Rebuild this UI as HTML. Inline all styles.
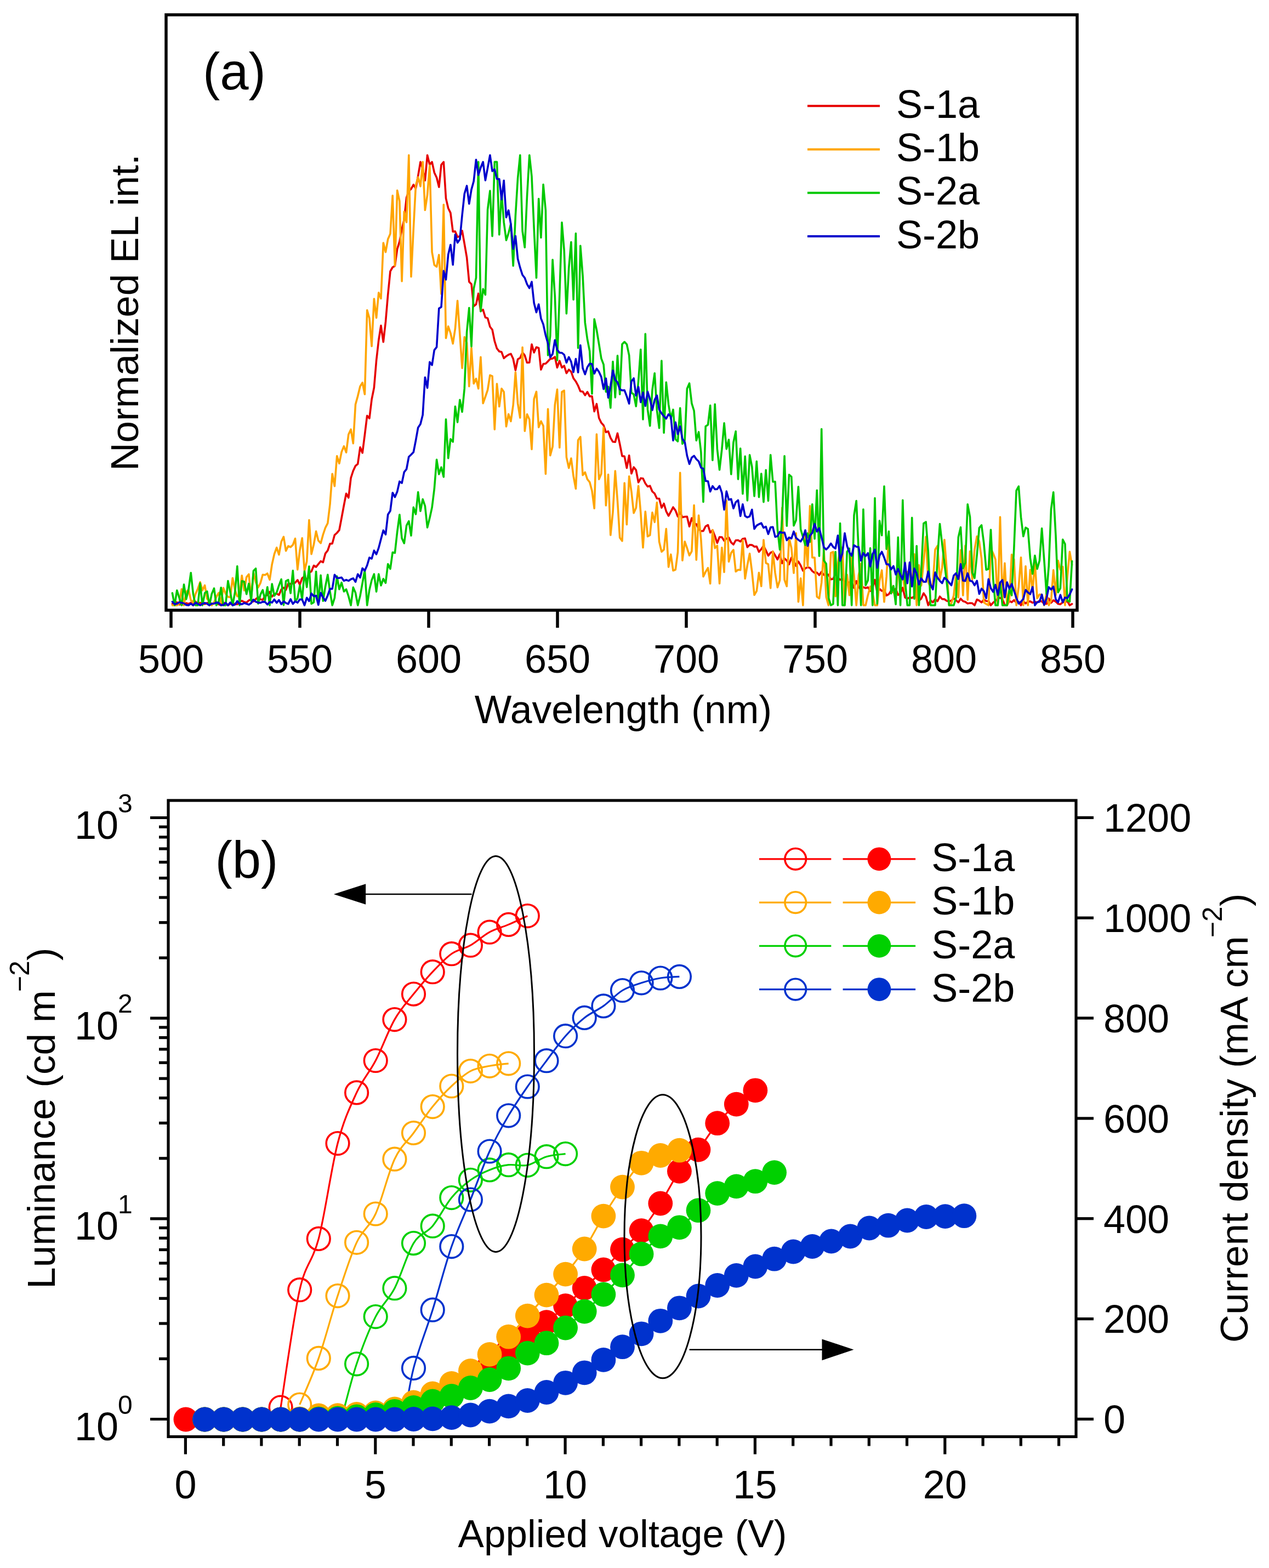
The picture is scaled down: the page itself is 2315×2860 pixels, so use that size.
<!DOCTYPE html>
<html><head><meta charset="utf-8"><title>EL spectra and L-V-J</title><style>html,body{margin:0;padding:0;background:#fff;}svg{display:block;}</style></head><body>
<svg width="2315" height="2860" viewBox="0 0 2315 2860" font-family="'Liberation Sans', Arial, sans-serif">
<rect x="0" y="0" width="2315" height="2860" fill="#fff"/>
<defs><clipPath id="ca"><rect x="305" y="29" width="1658" height="1082"/></clipPath><clipPath id="cb"><rect x="309" y="1462" width="1652" height="1156"/></clipPath></defs>
<g clip-path="url(#ca)">
<polyline points="314.4,1101.5 318.6,1098.2 322.8,1098.5 327.0,1102.7 331.3,1102.2 335.5,1102.7 339.7,1100.0 344.0,1101.5 348.2,1099.4 352.4,1104.0 356.6,1097.3 360.9,1101.3 365.1,1099.4 369.3,1101.3 373.6,1101.8 377.8,1099.7 382.0,1098.7 386.3,1101.1 390.5,1100.9 394.7,1098.7 398.9,1102.4 403.2,1103.9 407.4,1099.0 411.6,1101.4 415.9,1104.0 420.1,1101.4 424.3,1100.3 428.6,1101.8 432.8,1102.2 437.0,1098.1 441.2,1095.7 445.5,1098.1 449.7,1099.0 453.9,1095.1 458.2,1093.2 462.4,1097.1 466.6,1092.7 470.9,1089.4 475.1,1093.2 479.3,1094.1 483.5,1087.1 487.8,1085.4 492.0,1079.5 496.2,1088.2 500.5,1083.6 504.7,1082.7 508.9,1085.2 513.2,1075.2 517.4,1071.8 521.6,1076.0 525.8,1064.4 530.1,1065.1 534.3,1063.9 538.5,1062.9 542.8,1057.9 547.0,1066.5 551.2,1054.4 555.5,1051.4 559.7,1059.9 563.9,1044.7 568.1,1042.2 572.4,1031.6 576.6,1034.1 580.8,1028.9 585.1,1023.7 589.3,1025.7 593.5,1009.7 597.8,1004.2 602.0,991.9 606.2,991.4 610.4,975.8 614.7,972.0 618.9,966.9 623.1,944.9 627.4,921.6 631.6,900.2 635.8,907.9 640.1,871.7 644.3,858.8 648.5,849.7 652.7,846.3 657.0,815.9 661.2,826.0 665.4,793.3 669.7,758.2 673.9,763.0 678.1,728.4 682.4,707.1 686.6,657.4 690.8,620.4 695.0,593.9 699.3,623.7 703.5,586.9 707.7,537.4 712.0,494.8 716.2,487.5 720.4,485.1 724.7,454.1 728.9,440.5 733.1,418.2 737.3,400.2 741.6,360.4 745.8,348.3 750.0,344.6 754.3,336.9 758.5,343.7 762.7,320.8 767.0,295.3 771.2,308.7 775.4,329.2 779.6,283.0 783.9,300.7 788.1,295.3 792.3,314.7 796.6,323.9 800.8,341.2 805.0,300.6 809.3,295.3 813.5,361.9 817.7,379.7 821.9,388.4 826.2,422.4 830.4,422.1 834.6,432.2 838.9,430.9 843.1,420.8 847.3,444.6 851.6,469.6 855.8,513.9 860.0,518.3 864.2,558.6 868.5,555.1 872.7,535.4 876.9,567.4 881.2,564.9 885.4,579.0 889.6,580.4 893.9,596.0 898.1,601.3 902.3,622.3 906.5,635.7 910.8,641.0 915.0,642.1 919.2,653.5 923.5,649.7 927.7,647.0 931.9,645.3 936.2,654.6 940.4,675.3 944.6,655.3 948.8,652.9 953.1,643.0 957.3,648.2 961.5,661.5 965.8,661.2 970.0,628.1 974.2,642.9 978.5,633.3 982.7,634.8 986.9,674.2 991.1,663.8 995.4,663.2 999.6,659.1 1003.8,654.6 1008.1,653.9 1012.3,651.0 1016.5,670.5 1020.8,658.1 1025.0,670.5 1029.2,667.2 1033.4,680.7 1037.7,674.2 1041.9,678.0 1046.1,689.9 1050.4,695.7 1054.6,703.5 1058.8,713.8 1063.1,714.2 1067.3,720.9 1071.5,714.8 1075.7,722.9 1080.0,722.7 1084.2,750.4 1088.4,736.7 1092.7,762.5 1096.9,771.1 1101.1,775.8 1105.4,788.4 1109.6,786.8 1113.8,798.6 1118.0,805.8 1122.3,806.3 1126.5,790.3 1130.7,810.0 1135.0,831.9 1139.2,832.3 1143.4,853.6 1147.7,830.8 1151.9,863.8 1156.1,852.1 1160.3,857.4 1164.6,880.0 1168.8,872.3 1173.0,872.7 1177.3,881.8 1181.5,887.5 1185.7,886.2 1190.0,896.5 1194.2,900.2 1198.4,909.3 1202.6,909.5 1206.9,926.1 1211.1,918.5 1215.3,932.6 1219.6,940.8 1223.8,933.2 1228.0,925.2 1232.3,931.1 1236.5,942.1 1240.7,934.5 1244.9,943.6 1249.2,942.5 1253.4,942.4 1257.6,960.3 1261.9,945.0 1266.1,955.4 1270.3,956.1 1274.6,964.8 1278.8,968.7 1283.0,968.4 1287.2,960.0 1291.5,957.6 1295.7,971.4 1299.9,967.0 1304.2,977.8 1308.4,990.3 1312.6,979.6 1316.9,979.7 1321.1,986.4 1325.3,982.3 1329.5,980.6 1333.8,989.4 1338.0,993.2 1342.2,985.5 1346.5,985.4 1350.7,987.8 1354.9,982.7 1359.2,982.1 1363.4,998.1 1367.6,993.7 1371.8,994.1 1376.1,997.1 1380.3,996.7 1384.5,1006.6 1388.8,1001.6 1393.0,995.6 1397.2,1004.0 1401.5,1013.6 1405.7,1008.1 1409.9,1006.1 1414.1,1013.2 1418.4,1020.5 1422.6,1010.6 1426.8,1027.4 1431.1,1018.7 1435.3,1022.3 1439.5,1029.4 1443.8,1017.0 1448.0,1022.8 1452.2,1032.3 1456.4,1024.2 1460.7,1031.4 1464.9,1041.1 1469.1,1036.7 1473.4,1034.5 1477.6,1035.9 1481.8,1041.6 1486.1,1044.9 1490.3,1044.4 1494.5,1049.0 1498.7,1042.8 1503.0,1048.7 1507.2,1048.6 1511.4,1048.1 1515.7,1056.8 1519.9,1056.0 1524.1,1046.0 1528.4,1053.2 1532.6,1057.6 1536.8,1055.9 1541.0,1061.4 1545.3,1059.1 1549.5,1065.0 1553.7,1061.8 1558.0,1072.2 1562.2,1059.8 1566.4,1069.9 1570.7,1076.3 1574.9,1071.0 1579.1,1072.7 1583.3,1071.2 1587.6,1078.0 1591.8,1071.6 1596.0,1057.5 1600.3,1080.8 1604.5,1074.1 1608.7,1077.9 1613.0,1076.3 1617.2,1086.2 1621.4,1083.9 1625.6,1077.3 1629.9,1080.4 1634.1,1073.7 1638.3,1085.2 1642.6,1082.5 1646.8,1071.9 1651.0,1089.8 1655.3,1091.9 1659.5,1089.5 1663.7,1090.7 1667.9,1087.6 1672.2,1091.3 1676.4,1095.6 1680.6,1091.9 1684.9,1082.0 1689.1,1088.2 1693.3,1104.0 1697.6,1095.1 1701.8,1098.7 1706.0,1092.8 1710.2,1096.6 1714.5,1088.0 1718.7,1092.6 1722.9,1092.9 1727.2,1095.9 1731.4,1097.0 1735.6,1095.5 1739.9,1091.5 1744.1,1094.8 1748.3,1098.7 1752.5,1091.9 1756.8,1096.5 1761.0,1097.8 1765.2,1100.8 1769.5,1100.0 1773.7,1100.3 1777.9,1104.0 1782.2,1093.5 1786.4,1095.5 1790.6,1098.8 1794.8,1093.6 1799.1,1096.2 1803.3,1096.5 1807.5,1104.0 1811.8,1099.2 1816.0,1096.0 1820.2,1091.6 1824.5,1090.6 1828.7,1092.4 1832.9,1103.3 1837.1,1104.0 1841.4,1096.2 1845.6,1098.5 1849.8,1094.6 1854.1,1099.2 1858.3,1097.8 1862.5,1104.0 1866.8,1096.9 1871.0,1100.7 1875.2,1097.4 1879.4,1096.9 1883.7,1099.4 1887.9,1097.6 1892.1,1099.0 1896.4,1095.8 1900.6,1096.9 1904.8,1101.3 1909.1,1101.5 1913.3,1091.7 1917.5,1099.4 1921.7,1094.9 1926.0,1097.4 1930.2,1101.4 1934.4,1102.2 1938.7,1098.6 1942.9,1098.0 1947.1,1096.5 1951.4,1104.0 1955.6,1101.6" fill="none" stroke="#E60000" stroke-width="3.6" stroke-linejoin="round" stroke-linecap="round" />
<polyline points="314.4,1104.0 318.6,1104.0 322.8,1104.0 327.0,1100.5 331.3,1074.5 335.5,1104.0 339.7,1079.8 344.0,1075.4 348.2,1094.8 352.4,1098.6 356.6,1083.6 360.9,1073.9 365.1,1061.8 369.3,1076.8 373.6,1067.6 377.8,1092.1 382.0,1096.8 386.3,1104.0 390.5,1099.0 394.7,1088.7 398.9,1081.3 403.2,1099.2 407.4,1072.3 411.6,1082.9 415.9,1088.8 420.1,1089.4 424.3,1054.2 428.6,1075.9 432.8,1087.7 437.0,1086.4 441.2,1049.7 445.5,1076.9 449.7,1052.6 453.9,1047.3 458.2,1091.4 462.4,1044.4 466.6,1062.1 470.9,1071.5 475.1,1063.4 479.3,1048.2 483.5,1048.7 487.8,1046.0 492.0,1057.4 496.2,1029.3 500.5,1010.3 504.7,998.8 508.9,1011.7 513.2,988.0 517.4,979.1 521.6,1004.8 525.8,996.0 530.1,997.9 534.3,993.9 538.5,982.3 542.8,1038.9 547.0,1003.4 551.2,981.5 555.5,1041.7 559.7,1024.0 563.9,948.5 568.1,1010.6 572.4,993.4 576.6,969.1 580.8,986.1 585.1,990.7 589.3,975.3 593.5,962.8 597.8,954.4 602.0,919.6 606.2,864.2 610.4,886.8 614.7,831.8 618.9,845.4 623.1,824.4 627.4,813.9 631.6,825.2 635.8,792.4 640.1,783.2 644.3,808.7 648.5,737.8 652.7,722.5 657.0,704.6 661.2,698.0 665.4,719.1 669.7,565.7 673.9,580.6 678.1,631.5 682.4,545.0 686.6,579.7 690.8,533.9 695.0,544.5 699.3,443.0 703.5,459.8 707.7,436.3 712.0,426.4 716.2,356.9 720.4,484.6 724.7,347.3 728.9,367.0 733.1,512.9 737.3,386.1 741.6,405.4 745.8,283.0 750.0,504.7 754.3,417.7 758.5,337.8 762.7,323.2 767.0,339.9 771.2,295.3 775.4,383.3 779.6,355.6 783.9,301.7 788.1,459.8 792.3,483.3 796.6,486.7 800.8,464.9 805.0,536.1 809.3,373.3 813.5,616.8 817.7,595.3 821.9,607.5 826.2,626.8 830.4,599.6 834.6,548.5 838.9,610.4 843.1,671.4 847.3,614.9 851.6,625.3 855.8,704.6 860.0,634.5 864.2,699.7 868.5,690.6 872.7,708.8 876.9,651.4 881.2,735.6 885.4,723.8 889.6,711.4 893.9,684.4 898.1,686.1 902.3,783.1 906.5,700.1 910.8,741.5 915.0,708.9 919.2,714.8 923.5,778.0 927.7,755.2 931.9,768.5 936.2,738.8 940.4,679.0 944.6,736.0 948.8,762.0 953.1,633.6 957.3,786.2 961.5,755.6 965.8,765.1 970.0,819.4 974.2,727.9 978.5,714.4 982.7,779.4 986.9,768.3 991.1,776.8 995.4,864.4 999.6,746.1 1003.8,830.7 1008.1,814.8 1012.3,738.5 1016.5,710.4 1020.8,816.4 1025.0,714.8 1029.2,712.4 1033.4,833.8 1037.7,853.7 1041.9,836.1 1046.1,868.3 1050.4,891.4 1054.6,802.8 1058.8,796.8 1063.1,866.6 1067.3,861.3 1071.5,874.2 1075.7,879.3 1080.0,895.4 1084.2,927.2 1088.4,792.0 1092.7,874.1 1096.9,864.2 1101.1,779.9 1105.4,921.9 1109.6,865.6 1113.8,976.0 1118.0,934.6 1122.3,859.0 1126.5,913.7 1130.7,980.8 1135.0,986.7 1139.2,881.0 1143.4,956.6 1147.7,868.7 1151.9,896.8 1156.1,935.8 1160.3,926.5 1164.6,886.4 1168.8,935.0 1173.0,998.8 1177.3,933.1 1181.5,978.5 1185.7,976.2 1190.0,934.8 1194.2,952.4 1198.4,916.6 1202.6,988.1 1206.9,1006.4 1211.1,1002.6 1215.3,964.6 1219.6,1034.1 1223.8,1011.2 1228.0,1040.8 1232.3,1039.0 1236.5,1007.1 1240.7,862.4 1244.9,1022.3 1249.2,987.8 1253.4,999.7 1257.6,1013.2 1261.9,1005.5 1266.1,921.6 1270.3,1021.1 1274.6,940.0 1278.8,983.4 1283.0,1051.7 1287.2,1043.1 1291.5,1035.9 1295.7,1064.4 1299.9,966.6 1304.2,999.7 1308.4,995.2 1312.6,1064.3 1316.9,998.9 1321.1,1043.5 1325.3,913.1 1329.5,1024.5 1333.8,1008.4 1338.0,1002.9 1342.2,1042.5 1346.5,1039.2 1350.7,1039.8 1354.9,985.4 1359.2,1055.4 1363.4,1030.9 1367.6,1009.8 1371.8,1042.8 1376.1,1085.3 1380.3,1078.2 1384.5,1044.5 1388.8,1069.2 1393.0,984.7 1397.2,1026.9 1401.5,1029.1 1405.7,1072.7 1409.9,1005.8 1414.1,1045.0 1418.4,1071.5 1422.6,1058.2 1426.8,926.0 1431.1,1057.7 1435.3,1069.4 1439.5,981.2 1443.8,999.7 1448.0,1045.1 1452.2,972.5 1456.4,1097.6 1460.7,1054.9 1464.9,1104.0 1469.1,975.0 1473.4,1033.7 1477.6,922.8 1481.8,1016.9 1486.1,1017.1 1490.3,1088.4 1494.5,1091.7 1498.7,1062.4 1503.0,1002.6 1507.2,1089.0 1511.4,1104.0 1515.7,1008.3 1519.9,1006.6 1524.1,1087.7 1528.4,1029.1 1532.6,1000.1 1536.8,998.5 1541.0,1104.0 1545.3,1048.3 1549.5,1085.6 1553.7,1010.1 1558.0,1048.8 1562.2,1104.0 1566.4,1049.3 1570.7,1028.3 1574.9,1104.0 1579.1,1104.0 1583.3,1085.7 1587.6,1069.8 1591.8,1081.8 1596.0,1104.0 1600.3,1104.0 1604.5,1059.7 1608.7,1040.2 1613.0,1097.8 1617.2,1051.7 1621.4,976.3 1625.6,1068.7 1629.9,1079.2 1634.1,1091.1 1638.3,1039.4 1642.6,1050.3 1646.8,1049.5 1651.0,1077.4 1655.3,1042.9 1659.5,1043.0 1663.7,1067.9 1667.9,1010.7 1672.2,1104.0 1676.4,1030.8 1680.6,1068.1 1684.9,1025.7 1689.1,979.0 1693.3,1061.0 1697.6,1071.8 1701.8,1064.5 1706.0,1002.5 1710.2,995.7 1714.5,1056.6 1718.7,1035.5 1722.9,984.6 1727.2,1040.4 1731.4,1104.0 1735.6,1100.5 1739.9,1085.9 1744.1,1047.2 1748.3,1089.6 1752.5,1003.2 1756.8,1086.0 1761.0,995.4 1765.2,1094.2 1769.5,1005.5 1773.7,1056.9 1777.9,1002.2 1782.2,978.3 1786.4,987.7 1790.6,1019.1 1794.8,1098.7 1799.1,1101.7 1803.3,1104.0 1807.5,1000.2 1811.8,1009.5 1816.0,1020.3 1820.2,1104.0 1824.5,943.1 1828.7,1095.9 1832.9,1027.4 1837.1,1104.0 1841.4,1093.5 1845.6,1011.5 1849.8,1020.4 1854.1,1104.0 1858.3,1070.4 1862.5,1016.7 1866.8,1104.0 1871.0,1032.8 1875.2,1104.0 1879.4,1039.3 1883.7,1079.3 1887.9,1023.9 1892.1,1091.3 1896.4,1084.3 1900.6,1084.7 1904.8,1104.0 1909.1,1082.2 1913.3,1104.0 1917.5,1095.5 1921.7,1039.9 1926.0,1085.1 1930.2,1022.6 1934.4,1039.1 1938.7,1033.7 1942.9,1104.0 1947.1,1052.4 1951.4,1006.4 1955.6,1030.3" fill="none" stroke="#FFA500" stroke-width="3.6" stroke-linejoin="round" stroke-linecap="round" />
<polyline points="314.4,1081.8 318.6,1104.0 322.8,1076.8 327.0,1090.1 331.3,1104.0 335.5,1066.1 339.7,1092.9 344.0,1075.0 348.2,1044.8 352.4,1083.1 356.6,1104.0 360.9,1104.0 365.1,1063.8 369.3,1104.0 373.6,1081.8 377.8,1078.7 382.0,1104.0 386.3,1083.1 390.5,1073.1 394.7,1104.0 398.9,1097.5 403.2,1071.7 407.4,1104.0 411.6,1104.0 415.9,1059.6 420.1,1080.3 424.3,1104.0 428.6,1080.9 432.8,1032.9 437.0,1104.0 441.2,1059.8 445.5,1060.9 449.7,1083.8 453.9,1064.5 458.2,1096.0 462.4,1041.3 466.6,1037.0 470.9,1101.0 475.1,1084.6 479.3,1076.1 483.5,1094.8 487.8,1070.7 492.0,1104.0 496.2,1065.1 500.5,1086.8 504.7,1080.6 508.9,1067.8 513.2,1056.6 517.4,1103.6 521.6,1059.9 525.8,1057.7 530.1,1082.0 534.3,1040.9 538.5,1097.2 542.8,1091.3 547.0,1067.9 551.2,1093.5 555.5,1042.0 559.7,1070.9 563.9,1033.1 568.1,1101.3 572.4,1098.7 576.6,1042.5 580.8,1101.4 585.1,1049.3 589.3,1096.1 593.5,1070.1 597.8,1048.3 602.0,1079.0 606.2,1104.0 610.4,1090.5 614.7,1051.0 618.9,1074.8 623.1,1062.7 627.4,1078.9 631.6,1074.8 635.8,1087.5 640.1,1104.0 644.3,1071.4 648.5,1081.2 652.7,1104.0 657.0,1086.9 661.2,1063.5 665.4,1039.8 669.7,1104.0 673.9,1075.8 678.1,1058.1 682.4,1047.1 686.6,1079.1 690.8,1047.1 695.0,1067.9 699.3,1055.8 703.5,1063.3 707.7,1028.8 712.0,1037.6 716.2,1007.6 720.4,1008.6 724.7,969.9 728.9,938.7 733.1,981.7 737.3,990.9 741.6,958.7 745.8,950.6 750.0,976.9 754.3,925.2 758.5,937.9 762.7,897.6 767.0,932.2 771.2,910.5 775.4,922.9 779.6,962.1 783.9,944.8 788.1,925.7 792.3,891.8 796.6,838.4 800.8,864.9 805.0,852.3 809.3,869.9 813.5,764.8 817.7,835.7 821.9,800.8 826.2,805.8 830.4,741.2 834.6,770.1 838.9,729.2 843.1,751.3 847.3,708.7 851.6,605.7 855.8,561.6 860.0,632.0 864.2,526.5 868.5,506.8 872.7,295.3 876.9,567.9 881.2,527.1 885.4,537.7 889.6,382.5 893.9,348.1 898.1,430.7 902.3,295.3 906.5,295.3 910.8,428.0 915.0,350.8 919.2,405.5 923.5,438.1 927.7,425.4 931.9,408.5 936.2,484.8 940.4,393.3 944.6,324.9 948.8,283.0 953.1,421.5 957.3,451.2 961.5,357.8 965.8,283.0 970.0,321.8 974.2,417.0 978.5,506.8 982.7,362.6 986.9,433.5 991.1,336.6 995.4,383.8 999.6,647.9 1003.8,612.3 1008.1,473.8 1012.3,540.0 1016.5,657.1 1020.8,536.7 1025.0,405.8 1029.2,456.9 1033.4,572.0 1037.7,489.0 1041.9,441.5 1046.1,546.4 1050.4,425.7 1054.6,634.7 1058.8,448.4 1063.1,503.5 1067.3,588.4 1071.5,618.7 1075.7,640.3 1080.0,718.2 1084.2,582.1 1088.4,601.6 1092.7,627.6 1096.9,653.8 1101.1,664.9 1105.4,714.7 1109.6,705.3 1113.8,743.9 1118.0,659.6 1122.3,724.9 1126.5,648.9 1130.7,719.2 1135.0,627.7 1139.2,623.6 1143.4,627.9 1147.7,648.1 1151.9,716.2 1156.1,719.3 1160.3,741.1 1164.6,695.6 1168.8,637.5 1173.0,765.0 1177.3,609.1 1181.5,746.9 1185.7,776.7 1190.0,711.3 1194.2,680.7 1198.4,748.2 1202.6,780.7 1206.9,658.1 1211.1,789.5 1215.3,697.3 1219.6,737.7 1223.8,763.7 1228.0,747.2 1232.3,801.1 1236.5,805.1 1240.7,744.3 1244.9,809.6 1249.2,803.1 1253.4,709.0 1257.6,699.2 1261.9,735.7 1266.1,749.3 1270.3,803.4 1274.6,787.9 1278.8,824.1 1283.0,915.5 1287.2,777.7 1291.5,774.8 1295.7,739.5 1299.9,839.4 1304.2,737.2 1308.4,818.9 1312.6,857.0 1316.9,819.4 1321.1,771.8 1325.3,818.9 1329.5,802.0 1333.8,865.0 1338.0,806.7 1342.2,786.8 1346.5,874.0 1350.7,818.0 1354.9,900.6 1359.2,832.4 1363.4,913.0 1367.6,829.9 1371.8,851.4 1376.1,904.9 1380.3,841.5 1384.5,906.7 1388.8,864.1 1393.0,915.7 1397.2,857.3 1401.5,913.5 1405.7,829.7 1409.9,878.7 1414.1,878.6 1418.4,965.8 1422.6,1002.5 1426.8,946.9 1431.1,831.9 1435.3,959.3 1439.5,865.8 1443.8,869.5 1448.0,958.8 1452.2,948.9 1456.4,887.7 1460.7,965.7 1464.9,979.8 1469.1,994.4 1473.4,972.7 1477.6,988.5 1481.8,919.7 1486.1,982.7 1490.3,894.2 1494.5,1014.3 1498.7,782.5 1503.0,1022.4 1507.2,1028.3 1511.4,1090.2 1515.7,1104.0 1519.9,1101.6 1524.1,1006.5 1528.4,1104.0 1532.6,954.6 1536.8,1104.0 1541.0,1104.0 1545.3,1006.2 1549.5,1000.5 1553.7,1104.0 1558.0,939.9 1562.2,913.6 1566.4,1006.8 1570.7,1104.0 1574.9,929.0 1579.1,1067.8 1583.3,1058.6 1587.6,999.9 1591.8,1104.0 1596.0,908.6 1600.3,1101.2 1604.5,949.7 1608.7,976.5 1613.0,887.0 1617.2,1001.4 1621.4,969.4 1625.6,1082.5 1629.9,1068.6 1634.1,1102.3 1638.3,980.0 1642.6,1104.0 1646.8,912.3 1651.0,1058.2 1655.3,1104.0 1659.5,1104.0 1663.7,944.3 1667.9,1092.1 1672.2,995.8 1676.4,1104.0 1680.6,1043.2 1684.9,954.7 1689.1,952.0 1693.3,1006.0 1697.6,1104.0 1701.8,1104.0 1706.0,1104.0 1710.2,1017.2 1714.5,955.6 1718.7,992.1 1722.9,1027.2 1727.2,1063.0 1731.4,1104.0 1735.6,1104.0 1739.9,1104.0 1744.1,1090.0 1748.3,979.9 1752.5,961.8 1756.8,1036.7 1761.0,1026.3 1765.2,919.8 1769.5,942.9 1773.7,1044.3 1777.9,1054.4 1782.2,1012.3 1786.4,962.9 1790.6,957.9 1794.8,990.6 1799.1,1039.2 1803.3,1037.8 1807.5,966.2 1811.8,1056.3 1816.0,1104.0 1820.2,1104.0 1824.5,1063.3 1828.7,1104.0 1832.9,1104.0 1837.1,1104.0 1841.4,1074.6 1845.6,1085.8 1849.8,1000.6 1854.1,894.8 1858.3,887.1 1862.5,943.2 1866.8,978.2 1871.0,962.3 1875.2,964.8 1879.4,1017.9 1883.7,1046.7 1887.9,1013.2 1892.1,1037.8 1896.4,1022.6 1900.6,963.9 1904.8,1021.1 1909.1,1083.1 1913.3,1032.0 1917.5,928.4 1921.7,897.8 1926.0,977.4 1930.2,1080.5 1934.4,1072.9 1938.7,984.0 1942.9,992.3 1947.1,1095.7 1951.4,1097.3 1955.6,1023.5" fill="none" stroke="#00C800" stroke-width="3.6" stroke-linejoin="round" stroke-linecap="round" />
<polyline points="314.4,1097.6 318.6,1102.0 322.8,1101.3 327.0,1098.6 331.3,1099.6 335.5,1100.4 339.7,1103.5 344.0,1104.0 348.2,1101.0 352.4,1103.9 356.6,1099.5 360.9,1101.5 365.1,1104.0 369.3,1101.2 373.6,1099.7 377.8,1101.4 382.0,1104.0 386.3,1101.1 390.5,1100.7 394.7,1099.1 398.9,1099.4 403.2,1104.0 407.4,1103.3 411.6,1099.6 415.9,1104.0 420.1,1098.9 424.3,1104.0 428.6,1102.7 432.8,1096.5 437.0,1101.4 441.2,1102.1 445.5,1100.1 449.7,1101.3 453.9,1102.9 458.2,1100.0 462.4,1093.7 466.6,1097.6 470.9,1099.1 475.1,1099.5 479.3,1097.6 483.5,1097.9 487.8,1102.6 492.0,1097.9 496.2,1099.1 500.5,1093.4 504.7,1099.5 508.9,1094.4 513.2,1102.0 517.4,1096.8 521.6,1099.9 525.8,1101.6 530.1,1092.8 534.3,1101.5 538.5,1096.8 542.8,1099.3 547.0,1093.3 551.2,1093.5 555.5,1104.0 559.7,1090.3 563.9,1096.4 568.1,1082.4 572.4,1087.5 576.6,1086.5 580.8,1103.2 585.1,1081.4 589.3,1089.6 593.5,1095.9 597.8,1086.2 602.0,1074.1 606.2,1074.0 610.4,1048.4 614.7,1054.2 618.9,1054.2 623.1,1053.2 627.4,1059.4 631.6,1057.6 635.8,1059.4 640.1,1056.5 644.3,1054.8 648.5,1061.4 652.7,1047.3 657.0,1053.5 661.2,1036.5 665.4,1041.0 669.7,1031.3 673.9,1017.1 678.1,1019.0 682.4,1004.2 686.6,1011.0 690.8,999.4 695.0,983.3 699.3,967.4 703.5,974.9 707.7,938.5 712.0,931.8 716.2,898.7 720.4,906.7 724.7,896.7 728.9,878.2 733.1,881.1 737.3,861.2 741.6,855.6 745.8,833.2 750.0,829.3 754.3,824.8 758.5,803.4 762.7,779.9 767.0,773.5 771.2,756.7 775.4,688.2 779.6,707.6 783.9,660.4 788.1,665.9 792.3,638.6 796.6,633.1 800.8,562.6 805.0,560.0 809.3,494.1 813.5,510.0 817.7,464.5 821.9,446.5 826.2,482.9 830.4,427.8 834.6,442.7 838.9,436.4 843.1,392.4 847.3,353.5 851.6,338.9 855.8,371.6 860.0,345.8 864.2,330.5 868.5,291.2 872.7,319.2 876.9,305.8 881.2,295.3 885.4,328.9 889.6,306.5 893.9,283.0 898.1,312.1 902.3,309.0 906.5,326.4 910.8,326.5 915.0,363.9 919.2,329.3 923.5,396.4 927.7,383.6 931.9,408.6 936.2,453.9 940.4,430.6 944.6,472.2 948.8,488.1 953.1,501.5 957.3,506.9 961.5,518.4 965.8,525.5 970.0,514.0 974.2,552.7 978.5,569.7 982.7,555.1 986.9,580.8 991.1,591.6 995.4,611.6 999.6,626.3 1003.8,651.6 1008.1,645.6 1012.3,620.4 1016.5,637.9 1020.8,643.4 1025.0,643.5 1029.2,647.1 1033.4,661.5 1037.7,651.3 1041.9,659.9 1046.1,678.8 1050.4,654.5 1054.6,679.3 1058.8,629.7 1063.1,671.5 1067.3,682.7 1071.5,669.7 1075.7,663.3 1080.0,664.1 1084.2,681.4 1088.4,672.4 1092.7,678.3 1096.9,687.6 1101.1,709.7 1105.4,690.3 1109.6,725.3 1113.8,704.1 1118.0,675.7 1122.3,692.8 1126.5,697.4 1130.7,710.2 1135.0,712.0 1139.2,711.8 1143.4,722.9 1147.7,736.2 1151.9,695.8 1156.1,690.0 1160.3,721.4 1164.6,705.8 1168.8,733.6 1173.0,716.0 1177.3,740.4 1181.5,714.4 1185.7,728.2 1190.0,748.0 1194.2,729.6 1198.4,721.4 1202.6,747.2 1206.9,753.9 1211.1,759.3 1215.3,763.6 1219.6,755.6 1223.8,759.8 1228.0,803.4 1232.3,770.4 1236.5,791.9 1240.7,777.8 1244.9,800.7 1249.2,806.1 1253.4,831.3 1257.6,846.3 1261.9,834.7 1266.1,831.3 1270.3,837.5 1274.6,841.5 1278.8,852.8 1283.0,855.0 1287.2,877.3 1291.5,877.7 1295.7,896.6 1299.9,886.6 1304.2,892.4 1308.4,892.1 1312.6,886.3 1316.9,898.8 1321.1,929.6 1325.3,896.1 1329.5,911.5 1333.8,910.3 1338.0,927.3 1342.2,916.0 1346.5,912.3 1350.7,941.3 1354.9,919.8 1359.2,941.1 1363.4,943.7 1367.6,941.8 1371.8,929.5 1376.1,964.8 1380.3,958.6 1384.5,956.1 1388.8,954.1 1393.0,962.6 1397.2,960.7 1401.5,974.1 1405.7,961.9 1409.9,961.3 1414.1,979.2 1418.4,978.0 1422.6,970.2 1426.8,971.7 1431.1,971.3 1435.3,985.4 1439.5,980.3 1443.8,982.2 1448.0,969.4 1452.2,981.1 1456.4,984.6 1460.7,987.7 1464.9,980.6 1469.1,967.1 1473.4,995.8 1477.6,977.0 1481.8,972.0 1486.1,955.6 1490.3,969.6 1494.5,963.5 1498.7,979.9 1503.0,998.4 1507.2,1002.2 1511.4,997.9 1515.7,991.3 1519.9,997.5 1524.1,1000.5 1528.4,976.8 1532.6,1022.8 1536.8,1009.0 1541.0,972.6 1545.3,995.9 1549.5,1007.5 1553.7,1013.7 1558.0,994.5 1562.2,997.3 1566.4,997.9 1570.7,1022.4 1574.9,1008.8 1579.1,1014.3 1583.3,1008.9 1587.6,1032.9 1591.8,1010.8 1596.0,1002.5 1600.3,1035.6 1604.5,1013.2 1608.7,1006.5 1613.0,1017.0 1617.2,1029.2 1621.4,1029.4 1625.6,1038.6 1629.9,1032.5 1634.1,1047.9 1638.3,1037.7 1642.6,1048.9 1646.8,1056.9 1651.0,1026.4 1655.3,1063.9 1659.5,1025.8 1663.7,1069.7 1667.9,1037.0 1672.2,1046.0 1676.4,1066.2 1680.6,1055.0 1684.9,1061.2 1689.1,1061.3 1693.3,1042.4 1697.6,1065.7 1701.8,1075.2 1706.0,1044.1 1710.2,1053.7 1714.5,1059.4 1718.7,1063.7 1722.9,1053.8 1727.2,1057.3 1731.4,1062.6 1735.6,1067.7 1739.9,1049.7 1744.1,1045.6 1748.3,1056.2 1752.5,1028.9 1756.8,1058.9 1761.0,1059.6 1765.2,1045.6 1769.5,1059.4 1773.7,1060.3 1777.9,1067.7 1782.2,1059.3 1786.4,1083.3 1790.6,1073.7 1794.8,1078.3 1799.1,1091.1 1803.3,1056.4 1807.5,1072.7 1811.8,1079.5 1816.0,1066.7 1820.2,1085.1 1824.5,1062.6 1828.7,1057.9 1832.9,1089.5 1837.1,1062.0 1841.4,1073.7 1845.6,1065.1 1849.8,1077.1 1854.1,1090.6 1858.3,1100.9 1862.5,1097.6 1866.8,1092.4 1871.0,1076.1 1875.2,1080.6 1879.4,1083.8 1883.7,1070.7 1887.9,1104.0 1892.1,1098.3 1896.4,1097.6 1900.6,1084.4 1904.8,1103.2 1909.1,1091.7 1913.3,1070.9 1917.5,1075.3 1921.7,1069.8 1926.0,1093.2 1930.2,1098.7 1934.4,1085.0 1938.7,1098.4 1942.9,1089.9 1947.1,1090.9 1951.4,1084.2 1955.6,1075.0" fill="none" stroke="#0000CC" stroke-width="3.6" stroke-linejoin="round" stroke-linecap="round" />
</g>
<rect x="303" y="27" width="1662" height="1086" fill="none" stroke="#000" stroke-width="5.5" stroke-linejoin="miter"/>
<line x1="312.0" y1="1113" x2="312.0" y2="1145" stroke="#000" stroke-width="5.5"/>
<text x="312.0" y="1227" font-size="72" text-anchor="middle" >500</text>
<line x1="547.0" y1="1113" x2="547.0" y2="1145" stroke="#000" stroke-width="5.5"/>
<text x="547.0" y="1227" font-size="72" text-anchor="middle" >550</text>
<line x1="782.0" y1="1113" x2="782.0" y2="1145" stroke="#000" stroke-width="5.5"/>
<text x="782.0" y="1227" font-size="72" text-anchor="middle" >600</text>
<line x1="1017.0" y1="1113" x2="1017.0" y2="1145" stroke="#000" stroke-width="5.5"/>
<text x="1017.0" y="1227" font-size="72" text-anchor="middle" >650</text>
<line x1="1252.0" y1="1113" x2="1252.0" y2="1145" stroke="#000" stroke-width="5.5"/>
<text x="1252.0" y="1227" font-size="72" text-anchor="middle" >700</text>
<line x1="1487.0" y1="1113" x2="1487.0" y2="1145" stroke="#000" stroke-width="5.5"/>
<text x="1487.0" y="1227" font-size="72" text-anchor="middle" >750</text>
<line x1="1722.0" y1="1113" x2="1722.0" y2="1145" stroke="#000" stroke-width="5.5"/>
<text x="1722.0" y="1227" font-size="72" text-anchor="middle" >800</text>
<line x1="1957.0" y1="1113" x2="1957.0" y2="1145" stroke="#000" stroke-width="5.5"/>
<text x="1957.0" y="1227" font-size="72" text-anchor="middle" >850</text>
<text x="1137" y="1319" font-size="71.6" text-anchor="middle" >Wavelength (nm)</text>
<text x="0" y="0" font-size="71" text-anchor="middle" transform="translate(251.5,570) rotate(-90)">Normalized EL int.</text>
<text x="370" y="162.5" font-size="94" text-anchor="start" >(a)</text>
<line x1="1473" y1="193.3" x2="1605" y2="193.3" stroke="#E60000" stroke-width="4"/>
<text x="1635" y="214.9" font-size="72" text-anchor="start" >S-1a</text>
<line x1="1473" y1="272.5" x2="1605" y2="272.5" stroke="#FFA500" stroke-width="4"/>
<text x="1635" y="294.1" font-size="72" text-anchor="start" >S-1b</text>
<line x1="1473" y1="351.7" x2="1605" y2="351.7" stroke="#00C800" stroke-width="4"/>
<text x="1635" y="373.3" font-size="72" text-anchor="start" >S-2a</text>
<line x1="1473" y1="430.9" x2="1605" y2="430.9" stroke="#0000CC" stroke-width="4"/>
<text x="1635" y="452.5" font-size="72" text-anchor="start" >S-2b</text>
<g clip-path="url(#cb)">
<circle cx="512.1" cy="2567.0" r="20.8" fill="none" stroke="#FF0000" stroke-width="3.6"/><circle cx="546.7" cy="2352.7" r="20.8" fill="none" stroke="#FF0000" stroke-width="3.6"/><circle cx="581.3" cy="2259.4" r="20.8" fill="none" stroke="#FF0000" stroke-width="3.6"/><circle cx="616.0" cy="2085.5" r="20.8" fill="none" stroke="#FF0000" stroke-width="3.6"/><circle cx="650.6" cy="1992.9" r="20.8" fill="none" stroke="#FF0000" stroke-width="3.6"/><circle cx="685.2" cy="1934.5" r="20.8" fill="none" stroke="#FF0000" stroke-width="3.6"/><circle cx="719.9" cy="1859.6" r="20.8" fill="none" stroke="#FF0000" stroke-width="3.6"/><circle cx="754.5" cy="1813.1" r="20.8" fill="none" stroke="#FF0000" stroke-width="3.6"/><circle cx="789.2" cy="1772.7" r="20.8" fill="none" stroke="#FF0000" stroke-width="3.6"/><circle cx="823.8" cy="1739.7" r="20.8" fill="none" stroke="#FF0000" stroke-width="3.6"/><circle cx="858.4" cy="1724.2" r="20.8" fill="none" stroke="#FF0000" stroke-width="3.6"/><circle cx="893.1" cy="1700.2" r="20.8" fill="none" stroke="#FF0000" stroke-width="3.6"/><circle cx="927.7" cy="1686.4" r="20.8" fill="none" stroke="#FF0000" stroke-width="3.6"/><circle cx="962.3" cy="1670.6" r="20.8" fill="none" stroke="#FF0000" stroke-width="3.6"/>
<path d="M512.1,2567.0 C517.8,2531.3 535.2,2404.0 546.7,2352.7 C558.3,2301.4 569.8,2303.9 581.3,2259.4 C592.9,2214.9 604.4,2129.9 616.0,2085.5 C627.5,2041.1 639.1,2018.1 650.6,1992.9 C662.2,1967.7 673.7,1956.7 685.2,1934.5 C696.8,1912.3 708.3,1879.8 719.9,1859.6 C731.4,1839.4 743.0,1827.6 754.5,1813.1 C766.1,1798.6 777.6,1784.9 789.2,1772.7 C800.7,1760.5 812.2,1747.8 823.8,1739.7 C835.3,1731.6 846.9,1730.8 858.4,1724.2 C870.0,1717.6 881.5,1706.5 893.1,1700.2 C904.6,1693.9 916.1,1691.3 927.7,1686.4 C939.2,1681.5 956.6,1673.2 962.3,1670.6" fill="none" stroke="#FF0000" stroke-width="3.2" stroke-linejoin="round"/>
<circle cx="546.7" cy="2562.0" r="20.8" fill="none" stroke="#FFAA00" stroke-width="3.6"/><circle cx="581.3" cy="2477.4" r="20.8" fill="none" stroke="#FFAA00" stroke-width="3.6"/><circle cx="616.0" cy="2363.6" r="20.8" fill="none" stroke="#FFAA00" stroke-width="3.6"/><circle cx="650.6" cy="2266.3" r="20.8" fill="none" stroke="#FFAA00" stroke-width="3.6"/><circle cx="685.2" cy="2214.0" r="20.8" fill="none" stroke="#FFAA00" stroke-width="3.6"/><circle cx="719.9" cy="2114.2" r="20.8" fill="none" stroke="#FFAA00" stroke-width="3.6"/><circle cx="754.5" cy="2066.5" r="20.8" fill="none" stroke="#FFAA00" stroke-width="3.6"/><circle cx="789.2" cy="2018.6" r="20.8" fill="none" stroke="#FFAA00" stroke-width="3.6"/><circle cx="823.8" cy="1981.0" r="20.8" fill="none" stroke="#FFAA00" stroke-width="3.6"/><circle cx="858.4" cy="1953.6" r="20.8" fill="none" stroke="#FFAA00" stroke-width="3.6"/><circle cx="893.1" cy="1944.3" r="20.8" fill="none" stroke="#FFAA00" stroke-width="3.6"/><circle cx="927.7" cy="1939.8" r="20.8" fill="none" stroke="#FFAA00" stroke-width="3.6"/>
<path d="M546.7,2562.0 C552.5,2547.9 569.8,2510.5 581.3,2477.4 C592.9,2444.3 604.4,2398.8 616.0,2363.6 C627.5,2328.4 639.1,2291.2 650.6,2266.3 C662.2,2241.4 673.7,2239.3 685.2,2214.0 C696.8,2188.7 708.3,2138.8 719.9,2114.2 C731.4,2089.6 743.0,2082.4 754.5,2066.5 C766.1,2050.6 777.6,2032.8 789.2,2018.6 C800.7,2004.3 812.2,1991.8 823.8,1981.0 C835.3,1970.2 846.9,1959.7 858.4,1953.6 C870.0,1947.5 881.5,1946.6 893.1,1944.3 C904.6,1942.0 921.9,1940.5 927.7,1939.8" fill="none" stroke="#FFAA00" stroke-width="3.2" stroke-linejoin="round"/>
<circle cx="650.6" cy="2487.8" r="20.8" fill="none" stroke="#00D000" stroke-width="3.6"/><circle cx="685.2" cy="2401.6" r="20.8" fill="none" stroke="#00D000" stroke-width="3.6"/><circle cx="719.9" cy="2349.7" r="20.8" fill="none" stroke="#00D000" stroke-width="3.6"/><circle cx="754.5" cy="2267.6" r="20.8" fill="none" stroke="#00D000" stroke-width="3.6"/><circle cx="789.2" cy="2236.2" r="20.8" fill="none" stroke="#00D000" stroke-width="3.6"/><circle cx="823.8" cy="2184.6" r="20.8" fill="none" stroke="#00D000" stroke-width="3.6"/><circle cx="858.4" cy="2152.3" r="20.8" fill="none" stroke="#00D000" stroke-width="3.6"/><circle cx="893.1" cy="2133.9" r="20.8" fill="none" stroke="#00D000" stroke-width="3.6"/><circle cx="927.7" cy="2124.7" r="20.8" fill="none" stroke="#00D000" stroke-width="3.6"/><circle cx="962.3" cy="2125.3" r="20.8" fill="none" stroke="#00D000" stroke-width="3.6"/><circle cx="997.0" cy="2109.7" r="20.8" fill="none" stroke="#00D000" stroke-width="3.6"/><circle cx="1031.6" cy="2104.6" r="20.8" fill="none" stroke="#00D000" stroke-width="3.6"/>
<path d="M622.9,2588.0 C627.5,2571.3 640.2,2518.9 650.6,2487.8 C661.0,2456.7 673.7,2424.6 685.2,2401.6 C696.8,2378.6 708.3,2372.0 719.9,2349.7 C731.4,2327.4 743.0,2286.5 754.5,2267.6 C766.1,2248.7 777.6,2250.0 789.2,2236.2 C800.7,2222.4 812.2,2198.6 823.8,2184.6 C835.3,2170.6 846.9,2160.8 858.4,2152.3 C870.0,2143.9 881.5,2138.5 893.1,2133.9 C904.6,2129.3 916.1,2126.1 927.7,2124.7 C939.2,2123.3 950.8,2127.8 962.3,2125.3 C973.9,2122.8 985.4,2113.1 997.0,2109.7 C1008.5,2106.2 1025.8,2105.4 1031.6,2104.6" fill="none" stroke="#00D000" stroke-width="3.2" stroke-linejoin="round"/>
<circle cx="754.5" cy="2495.4" r="20.8" fill="none" stroke="#0032CD" stroke-width="3.6"/><circle cx="789.2" cy="2389.2" r="20.8" fill="none" stroke="#0032CD" stroke-width="3.6"/><circle cx="823.8" cy="2273.6" r="20.8" fill="none" stroke="#0032CD" stroke-width="3.6"/><circle cx="858.4" cy="2188.0" r="20.8" fill="none" stroke="#0032CD" stroke-width="3.6"/><circle cx="893.1" cy="2100.0" r="20.8" fill="none" stroke="#0032CD" stroke-width="3.6"/><circle cx="927.7" cy="2034.8" r="20.8" fill="none" stroke="#0032CD" stroke-width="3.6"/><circle cx="962.3" cy="1982.0" r="20.8" fill="none" stroke="#0032CD" stroke-width="3.6"/><circle cx="997.0" cy="1934.7" r="20.8" fill="none" stroke="#0032CD" stroke-width="3.6"/><circle cx="1031.6" cy="1889.7" r="20.8" fill="none" stroke="#0032CD" stroke-width="3.6"/><circle cx="1066.2" cy="1856.4" r="20.8" fill="none" stroke="#0032CD" stroke-width="3.6"/><circle cx="1100.9" cy="1834.9" r="20.8" fill="none" stroke="#0032CD" stroke-width="3.6"/><circle cx="1135.5" cy="1806.5" r="20.8" fill="none" stroke="#0032CD" stroke-width="3.6"/><circle cx="1170.1" cy="1792.8" r="20.8" fill="none" stroke="#0032CD" stroke-width="3.6"/><circle cx="1204.8" cy="1784.0" r="20.8" fill="none" stroke="#0032CD" stroke-width="3.6"/><circle cx="1239.4" cy="1781.4" r="20.8" fill="none" stroke="#0032CD" stroke-width="3.6"/>
<path d="M737.9,2588.0 C740.7,2572.6 746.0,2528.5 754.5,2495.4 C763.1,2462.3 777.6,2426.2 789.2,2389.2 C800.7,2352.2 812.2,2307.1 823.8,2273.6 C835.3,2240.1 846.9,2216.9 858.4,2188.0 C870.0,2159.1 881.5,2125.5 893.1,2100.0 C904.6,2074.5 916.1,2054.5 927.7,2034.8 C939.2,2015.1 950.8,1998.7 962.3,1982.0 C973.9,1965.3 985.4,1950.1 997.0,1934.7 C1008.5,1919.3 1020.1,1902.8 1031.6,1889.7 C1043.1,1876.7 1054.7,1865.5 1066.2,1856.4 C1077.8,1847.3 1089.3,1843.2 1100.9,1834.9 C1112.4,1826.6 1124.0,1813.5 1135.5,1806.5 C1147.0,1799.5 1158.6,1796.5 1170.1,1792.8 C1181.7,1789.0 1193.2,1785.9 1204.8,1784.0 C1216.3,1782.1 1233.6,1781.8 1239.4,1781.4" fill="none" stroke="#0032CD" stroke-width="3.2" stroke-linejoin="round"/>
<path d="M338.9,2589.0 C344.7,2589.0 362.0,2589.0 373.5,2589.0 C385.1,2589.0 396.6,2589.0 408.2,2589.0 C419.7,2589.0 431.3,2589.0 442.8,2589.0 C454.3,2589.0 465.9,2589.0 477.4,2589.0 C489.0,2589.0 500.5,2589.0 512.1,2589.0 C523.6,2589.0 535.2,2589.2 546.7,2589.0 C558.3,2588.8 569.8,2588.2 581.3,2588.0 C592.9,2587.8 604.4,2588.3 616.0,2588.0 C627.5,2587.7 639.1,2586.8 650.6,2586.0 C662.2,2585.2 673.7,2584.3 685.2,2583.0 C696.8,2581.7 708.3,2580.5 719.9,2578.0 C731.4,2575.5 743.0,2571.7 754.5,2568.0 C766.1,2564.3 777.6,2560.3 789.2,2556.0 C800.7,2551.7 812.2,2548.0 823.8,2542.0 C835.3,2536.0 846.9,2528.7 858.4,2520.0 C870.0,2511.3 881.5,2499.6 893.1,2490.0 C904.6,2480.4 916.1,2471.4 927.7,2462.4 C939.2,2453.4 950.8,2444.4 962.3,2435.9 C973.9,2427.4 985.4,2420.7 997.0,2411.7 C1008.5,2402.7 1020.1,2392.1 1031.6,2381.7 C1043.1,2371.3 1054.7,2360.3 1066.2,2349.4 C1077.8,2338.5 1089.3,2327.7 1100.9,2316.0 C1112.4,2304.3 1124.0,2291.1 1135.5,2279.2 C1147.0,2267.3 1158.6,2258.6 1170.1,2244.6 C1181.7,2230.6 1193.2,2213.1 1204.8,2195.0 C1216.3,2176.9 1227.9,2152.6 1239.4,2136.3 C1251.0,2120.0 1262.5,2111.7 1274.0,2097.1 C1285.6,2082.5 1297.1,2062.5 1308.7,2048.7 C1320.2,2034.9 1331.8,2024.1 1343.3,2014.1 C1354.9,2004.1 1372.2,1993.0 1377.9,1988.8" fill="none" stroke="#FF0000" stroke-width="3.2" stroke-linejoin="round"/>
<circle cx="338.9" cy="2589.0" r="22.4" fill="#FF0000"/><circle cx="373.5" cy="2589.0" r="22.4" fill="#FF0000"/><circle cx="408.2" cy="2589.0" r="22.4" fill="#FF0000"/><circle cx="442.8" cy="2589.0" r="22.4" fill="#FF0000"/><circle cx="477.4" cy="2589.0" r="22.4" fill="#FF0000"/><circle cx="512.1" cy="2589.0" r="22.4" fill="#FF0000"/><circle cx="546.7" cy="2589.0" r="22.4" fill="#FF0000"/><circle cx="581.3" cy="2588.0" r="22.4" fill="#FF0000"/><circle cx="616.0" cy="2588.0" r="22.4" fill="#FF0000"/><circle cx="650.6" cy="2586.0" r="22.4" fill="#FF0000"/><circle cx="685.2" cy="2583.0" r="22.4" fill="#FF0000"/><circle cx="719.9" cy="2578.0" r="22.4" fill="#FF0000"/><circle cx="754.5" cy="2568.0" r="22.4" fill="#FF0000"/><circle cx="789.2" cy="2556.0" r="22.4" fill="#FF0000"/><circle cx="823.8" cy="2542.0" r="22.4" fill="#FF0000"/><circle cx="858.4" cy="2520.0" r="22.4" fill="#FF0000"/><circle cx="893.1" cy="2490.0" r="22.4" fill="#FF0000"/><circle cx="927.7" cy="2462.4" r="22.4" fill="#FF0000"/><circle cx="962.3" cy="2435.9" r="22.4" fill="#FF0000"/><circle cx="997.0" cy="2411.7" r="22.4" fill="#FF0000"/><circle cx="1031.6" cy="2381.7" r="22.4" fill="#FF0000"/><circle cx="1066.2" cy="2349.4" r="22.4" fill="#FF0000"/><circle cx="1100.9" cy="2316.0" r="22.4" fill="#FF0000"/><circle cx="1135.5" cy="2279.2" r="22.4" fill="#FF0000"/><circle cx="1170.1" cy="2244.6" r="22.4" fill="#FF0000"/><circle cx="1204.8" cy="2195.0" r="22.4" fill="#FF0000"/><circle cx="1239.4" cy="2136.3" r="22.4" fill="#FF0000"/><circle cx="1274.0" cy="2097.1" r="22.4" fill="#FF0000"/><circle cx="1308.7" cy="2048.7" r="22.4" fill="#FF0000"/><circle cx="1343.3" cy="2014.1" r="22.4" fill="#FF0000"/><circle cx="1377.9" cy="1988.8" r="22.4" fill="#FF0000"/>
<path d="M373.5,2589.0 C379.3,2589.0 396.6,2589.0 408.2,2589.0 C419.7,2589.0 431.3,2589.0 442.8,2589.0 C454.3,2589.0 465.9,2589.0 477.4,2589.0 C489.0,2589.0 500.5,2589.2 512.1,2589.0 C523.6,2588.8 535.2,2589.2 546.7,2588.0 C558.3,2586.8 569.8,2583.1 581.3,2582.0 C592.9,2580.9 604.4,2582.0 616.0,2581.6 C627.5,2581.2 639.1,2580.3 650.6,2579.5 C662.2,2578.7 673.7,2578.6 685.2,2577.0 C696.8,2575.4 708.3,2573.2 719.9,2570.0 C731.4,2566.8 743.0,2562.7 754.5,2558.0 C766.1,2553.3 777.6,2547.8 789.2,2542.0 C800.7,2536.2 812.2,2530.3 823.8,2523.4 C835.3,2516.5 846.9,2509.2 858.4,2500.4 C870.0,2491.6 881.5,2480.8 893.1,2470.4 C904.6,2460.0 916.1,2449.9 927.7,2438.2 C939.2,2426.5 950.8,2412.8 962.3,2400.1 C973.9,2387.4 985.4,2374.8 997.0,2362.1 C1008.5,2349.4 1020.1,2338.1 1031.6,2324.1 C1043.1,2310.1 1054.7,2295.7 1066.2,2278.0 C1077.8,2260.3 1089.3,2236.9 1100.9,2218.1 C1112.4,2199.3 1124.0,2181.2 1135.5,2165.1 C1147.0,2149.0 1158.6,2130.9 1170.1,2121.3 C1181.7,2111.7 1193.2,2111.3 1204.8,2107.5 C1216.3,2103.7 1233.6,2099.8 1239.4,2098.2" fill="none" stroke="#FFAA00" stroke-width="3.2" stroke-linejoin="round"/>
<circle cx="373.5" cy="2589.0" r="22.4" fill="#FFAA00"/><circle cx="408.2" cy="2589.0" r="22.4" fill="#FFAA00"/><circle cx="442.8" cy="2589.0" r="22.4" fill="#FFAA00"/><circle cx="477.4" cy="2589.0" r="22.4" fill="#FFAA00"/><circle cx="512.1" cy="2589.0" r="22.4" fill="#FFAA00"/><circle cx="546.7" cy="2588.0" r="22.4" fill="#FFAA00"/><circle cx="581.3" cy="2582.0" r="22.4" fill="#FFAA00"/><circle cx="616.0" cy="2581.6" r="22.4" fill="#FFAA00"/><circle cx="650.6" cy="2579.5" r="22.4" fill="#FFAA00"/><circle cx="685.2" cy="2577.0" r="22.4" fill="#FFAA00"/><circle cx="719.9" cy="2570.0" r="22.4" fill="#FFAA00"/><circle cx="754.5" cy="2558.0" r="22.4" fill="#FFAA00"/><circle cx="789.2" cy="2542.0" r="22.4" fill="#FFAA00"/><circle cx="823.8" cy="2523.4" r="22.4" fill="#FFAA00"/><circle cx="858.4" cy="2500.4" r="22.4" fill="#FFAA00"/><circle cx="893.1" cy="2470.4" r="22.4" fill="#FFAA00"/><circle cx="927.7" cy="2438.2" r="22.4" fill="#FFAA00"/><circle cx="962.3" cy="2400.1" r="22.4" fill="#FFAA00"/><circle cx="997.0" cy="2362.1" r="22.4" fill="#FFAA00"/><circle cx="1031.6" cy="2324.1" r="22.4" fill="#FFAA00"/><circle cx="1066.2" cy="2278.0" r="22.4" fill="#FFAA00"/><circle cx="1100.9" cy="2218.1" r="22.4" fill="#FFAA00"/><circle cx="1135.5" cy="2165.1" r="22.4" fill="#FFAA00"/><circle cx="1170.1" cy="2121.3" r="22.4" fill="#FFAA00"/><circle cx="1204.8" cy="2107.5" r="22.4" fill="#FFAA00"/><circle cx="1239.4" cy="2098.2" r="22.4" fill="#FFAA00"/>
<path d="M373.5,2589.0 C379.3,2589.0 396.6,2589.0 408.2,2589.0 C419.7,2589.0 431.3,2589.0 442.8,2589.0 C454.3,2589.0 465.9,2589.0 477.4,2589.0 C489.0,2589.0 500.5,2589.0 512.1,2589.0 C523.6,2589.0 535.2,2589.2 546.7,2589.0 C558.3,2588.8 569.8,2588.3 581.3,2588.0 C592.9,2587.7 604.4,2587.7 616.0,2587.0 C627.5,2586.3 639.1,2585.1 650.6,2584.0 C662.2,2582.9 673.7,2582.0 685.2,2580.4 C696.8,2578.8 708.3,2576.5 719.9,2574.3 C731.4,2572.1 743.0,2570.5 754.5,2567.4 C766.1,2564.3 777.6,2559.5 789.2,2556.0 C800.7,2552.5 812.2,2550.6 823.8,2546.5 C835.3,2542.4 846.9,2536.5 858.4,2531.5 C870.0,2526.5 881.5,2522.4 893.1,2516.5 C904.6,2510.6 916.1,2503.9 927.7,2495.8 C939.2,2487.7 950.8,2475.8 962.3,2468.1 C973.9,2460.4 985.4,2457.4 997.0,2449.7 C1008.5,2442.0 1020.1,2431.6 1031.6,2422.0 C1043.1,2412.4 1054.7,2402.3 1066.2,2392.1 C1077.8,2381.9 1089.3,2372.1 1100.9,2361.0 C1112.4,2349.9 1124.0,2338.1 1135.5,2325.8 C1147.0,2313.5 1158.6,2299.0 1170.1,2287.2 C1181.7,2275.4 1193.2,2263.0 1204.8,2254.9 C1216.3,2246.8 1227.9,2246.7 1239.4,2238.8 C1251.0,2230.9 1262.5,2218.1 1274.0,2207.7 C1285.6,2197.3 1297.1,2183.9 1308.7,2176.6 C1320.2,2169.3 1331.8,2167.6 1343.3,2163.9 C1354.9,2160.2 1366.4,2158.9 1377.9,2154.7 C1389.5,2150.5 1406.8,2141.3 1412.6,2138.6" fill="none" stroke="#00D000" stroke-width="3.2" stroke-linejoin="round"/>
<circle cx="373.5" cy="2589.0" r="22.4" fill="#00D000"/><circle cx="408.2" cy="2589.0" r="22.4" fill="#00D000"/><circle cx="442.8" cy="2589.0" r="22.4" fill="#00D000"/><circle cx="477.4" cy="2589.0" r="22.4" fill="#00D000"/><circle cx="512.1" cy="2589.0" r="22.4" fill="#00D000"/><circle cx="546.7" cy="2589.0" r="22.4" fill="#00D000"/><circle cx="581.3" cy="2588.0" r="22.4" fill="#00D000"/><circle cx="616.0" cy="2587.0" r="22.4" fill="#00D000"/><circle cx="650.6" cy="2584.0" r="22.4" fill="#00D000"/><circle cx="685.2" cy="2580.4" r="22.4" fill="#00D000"/><circle cx="719.9" cy="2574.3" r="22.4" fill="#00D000"/><circle cx="754.5" cy="2567.4" r="22.4" fill="#00D000"/><circle cx="789.2" cy="2556.0" r="22.4" fill="#00D000"/><circle cx="823.8" cy="2546.5" r="22.4" fill="#00D000"/><circle cx="858.4" cy="2531.5" r="22.4" fill="#00D000"/><circle cx="893.1" cy="2516.5" r="22.4" fill="#00D000"/><circle cx="927.7" cy="2495.8" r="22.4" fill="#00D000"/><circle cx="962.3" cy="2468.1" r="22.4" fill="#00D000"/><circle cx="997.0" cy="2449.7" r="22.4" fill="#00D000"/><circle cx="1031.6" cy="2422.0" r="22.4" fill="#00D000"/><circle cx="1066.2" cy="2392.1" r="22.4" fill="#00D000"/><circle cx="1100.9" cy="2361.0" r="22.4" fill="#00D000"/><circle cx="1135.5" cy="2325.8" r="22.4" fill="#00D000"/><circle cx="1170.1" cy="2287.2" r="22.4" fill="#00D000"/><circle cx="1204.8" cy="2254.9" r="22.4" fill="#00D000"/><circle cx="1239.4" cy="2238.8" r="22.4" fill="#00D000"/><circle cx="1274.0" cy="2207.7" r="22.4" fill="#00D000"/><circle cx="1308.7" cy="2176.6" r="22.4" fill="#00D000"/><circle cx="1343.3" cy="2163.9" r="22.4" fill="#00D000"/><circle cx="1377.9" cy="2154.7" r="22.4" fill="#00D000"/><circle cx="1412.6" cy="2138.6" r="22.4" fill="#00D000"/>
<path d="M373.5,2589.0 C379.3,2589.0 396.6,2589.0 408.2,2589.0 C419.7,2589.0 431.3,2589.0 442.8,2589.0 C454.3,2589.0 465.9,2589.0 477.4,2589.0 C489.0,2589.0 500.5,2589.0 512.1,2589.0 C523.6,2589.0 535.2,2589.0 546.7,2589.0 C558.3,2589.0 569.8,2589.0 581.3,2589.0 C592.9,2589.0 604.4,2589.0 616.0,2589.0 C627.5,2589.0 639.1,2589.0 650.6,2589.0 C662.2,2589.0 673.7,2589.0 685.2,2589.0 C696.8,2589.0 708.3,2589.1 719.9,2589.0 C731.4,2588.9 743.0,2588.7 754.5,2588.5 C766.1,2588.3 777.6,2588.4 789.2,2587.9 C800.7,2587.4 812.2,2586.8 823.8,2585.6 C835.3,2584.4 846.9,2582.9 858.4,2581.0 C870.0,2579.1 881.5,2576.8 893.1,2574.1 C904.6,2571.4 916.1,2568.2 927.7,2564.9 C939.2,2561.6 950.8,2558.7 962.3,2554.5 C973.9,2550.3 985.4,2544.9 997.0,2539.5 C1008.5,2534.1 1020.1,2528.2 1031.6,2522.3 C1043.1,2516.4 1054.7,2510.8 1066.2,2503.8 C1077.8,2496.8 1089.3,2488.2 1100.9,2480.4 C1112.4,2472.6 1124.0,2464.6 1135.5,2456.7 C1147.0,2448.8 1158.6,2440.7 1170.1,2432.8 C1181.7,2424.9 1193.2,2417.1 1204.8,2409.3 C1216.3,2401.5 1227.9,2393.4 1239.4,2385.8 C1251.0,2378.2 1262.5,2370.9 1274.0,2364.0 C1285.6,2357.1 1297.1,2350.8 1308.7,2344.5 C1320.2,2338.2 1331.8,2332.2 1343.3,2326.4 C1354.9,2320.7 1366.4,2315.0 1377.9,2310.0 C1389.5,2305.0 1401.0,2300.7 1412.6,2296.2 C1424.1,2291.7 1435.7,2286.8 1447.2,2283.0 C1458.8,2279.2 1470.3,2276.7 1481.9,2273.5 C1493.4,2270.3 1504.9,2267.1 1516.5,2264.0 C1528.0,2260.9 1539.6,2259.0 1551.1,2255.0 C1562.7,2251.0 1574.2,2243.3 1585.8,2240.0 C1597.3,2236.7 1608.8,2237.5 1620.4,2235.2 C1631.9,2232.9 1643.5,2228.6 1655.0,2226.0 C1666.6,2223.4 1678.1,2220.7 1689.7,2219.5 C1701.2,2218.3 1712.8,2218.9 1724.3,2218.6 C1735.8,2218.3 1753.2,2217.8 1758.9,2217.7" fill="none" stroke="#0032CD" stroke-width="3.2" stroke-linejoin="round"/>
<circle cx="373.5" cy="2589.0" r="22.4" fill="#0032CD"/><circle cx="408.2" cy="2589.0" r="22.4" fill="#0032CD"/><circle cx="442.8" cy="2589.0" r="22.4" fill="#0032CD"/><circle cx="477.4" cy="2589.0" r="22.4" fill="#0032CD"/><circle cx="512.1" cy="2589.0" r="22.4" fill="#0032CD"/><circle cx="546.7" cy="2589.0" r="22.4" fill="#0032CD"/><circle cx="581.3" cy="2589.0" r="22.4" fill="#0032CD"/><circle cx="616.0" cy="2589.0" r="22.4" fill="#0032CD"/><circle cx="650.6" cy="2589.0" r="22.4" fill="#0032CD"/><circle cx="685.2" cy="2589.0" r="22.4" fill="#0032CD"/><circle cx="719.9" cy="2589.0" r="22.4" fill="#0032CD"/><circle cx="754.5" cy="2588.5" r="22.4" fill="#0032CD"/><circle cx="789.2" cy="2587.9" r="22.4" fill="#0032CD"/><circle cx="823.8" cy="2585.6" r="22.4" fill="#0032CD"/><circle cx="858.4" cy="2581.0" r="22.4" fill="#0032CD"/><circle cx="893.1" cy="2574.1" r="22.4" fill="#0032CD"/><circle cx="927.7" cy="2564.9" r="22.4" fill="#0032CD"/><circle cx="962.3" cy="2554.5" r="22.4" fill="#0032CD"/><circle cx="997.0" cy="2539.5" r="22.4" fill="#0032CD"/><circle cx="1031.6" cy="2522.3" r="22.4" fill="#0032CD"/><circle cx="1066.2" cy="2503.8" r="22.4" fill="#0032CD"/><circle cx="1100.9" cy="2480.4" r="22.4" fill="#0032CD"/><circle cx="1135.5" cy="2456.7" r="22.4" fill="#0032CD"/><circle cx="1170.1" cy="2432.8" r="22.4" fill="#0032CD"/><circle cx="1204.8" cy="2409.3" r="22.4" fill="#0032CD"/><circle cx="1239.4" cy="2385.8" r="22.4" fill="#0032CD"/><circle cx="1274.0" cy="2364.0" r="22.4" fill="#0032CD"/><circle cx="1308.7" cy="2344.5" r="22.4" fill="#0032CD"/><circle cx="1343.3" cy="2326.4" r="22.4" fill="#0032CD"/><circle cx="1377.9" cy="2310.0" r="22.4" fill="#0032CD"/><circle cx="1412.6" cy="2296.2" r="22.4" fill="#0032CD"/><circle cx="1447.2" cy="2283.0" r="22.4" fill="#0032CD"/><circle cx="1481.9" cy="2273.5" r="22.4" fill="#0032CD"/><circle cx="1516.5" cy="2264.0" r="22.4" fill="#0032CD"/><circle cx="1551.1" cy="2255.0" r="22.4" fill="#0032CD"/><circle cx="1585.8" cy="2240.0" r="22.4" fill="#0032CD"/><circle cx="1620.4" cy="2235.2" r="22.4" fill="#0032CD"/><circle cx="1655.0" cy="2226.0" r="22.4" fill="#0032CD"/><circle cx="1689.7" cy="2219.5" r="22.4" fill="#0032CD"/><circle cx="1724.3" cy="2218.6" r="22.4" fill="#0032CD"/><circle cx="1758.9" cy="2217.7" r="22.4" fill="#0032CD"/>
</g>
<ellipse cx="904.5" cy="1922.5" rx="70" ry="361" fill="none" stroke="#000" stroke-width="3"/>
<ellipse cx="1209" cy="2255.3" rx="70" ry="258.5" fill="none" stroke="#000" stroke-width="3"/>
<line x1="860.5" y1="1631" x2="660" y2="1631" stroke="#000" stroke-width="2.6"/>
<polygon points="608.8,1631 667.2,1612.3 667.2,1649.7" fill="#000"/>
<line x1="1257.6" y1="2461.8" x2="1505" y2="2461.8" stroke="#000" stroke-width="2.6"/>
<polygon points="1557.5,2461.8 1499.5,2442.4 1499.5,2481.2" fill="#000"/>
<rect x="307" y="1460" width="1656" height="1160.5" fill="none" stroke="#000" stroke-width="5.2"/>
<line x1="338.4" y1="2620.5" x2="338.4" y2="2652.5" stroke="#000" stroke-width="5.2"/>
<line x1="407.7" y1="2620.5" x2="407.7" y2="2637.5" stroke="#000" stroke-width="5.2"/>
<line x1="476.9" y1="2620.5" x2="476.9" y2="2637.5" stroke="#000" stroke-width="5.2"/>
<line x1="546.2" y1="2620.5" x2="546.2" y2="2637.5" stroke="#000" stroke-width="5.2"/>
<line x1="615.5" y1="2620.5" x2="615.5" y2="2637.5" stroke="#000" stroke-width="5.2"/>
<line x1="684.8" y1="2620.5" x2="684.8" y2="2652.5" stroke="#000" stroke-width="5.2"/>
<line x1="754.0" y1="2620.5" x2="754.0" y2="2637.5" stroke="#000" stroke-width="5.2"/>
<line x1="823.3" y1="2620.5" x2="823.3" y2="2637.5" stroke="#000" stroke-width="5.2"/>
<line x1="892.6" y1="2620.5" x2="892.6" y2="2637.5" stroke="#000" stroke-width="5.2"/>
<line x1="961.8" y1="2620.5" x2="961.8" y2="2637.5" stroke="#000" stroke-width="5.2"/>
<line x1="1031.1" y1="2620.5" x2="1031.1" y2="2652.5" stroke="#000" stroke-width="5.2"/>
<line x1="1100.4" y1="2620.5" x2="1100.4" y2="2637.5" stroke="#000" stroke-width="5.2"/>
<line x1="1169.6" y1="2620.5" x2="1169.6" y2="2637.5" stroke="#000" stroke-width="5.2"/>
<line x1="1238.9" y1="2620.5" x2="1238.9" y2="2637.5" stroke="#000" stroke-width="5.2"/>
<line x1="1308.2" y1="2620.5" x2="1308.2" y2="2637.5" stroke="#000" stroke-width="5.2"/>
<line x1="1377.4" y1="2620.5" x2="1377.4" y2="2652.5" stroke="#000" stroke-width="5.2"/>
<line x1="1446.7" y1="2620.5" x2="1446.7" y2="2637.5" stroke="#000" stroke-width="5.2"/>
<line x1="1516.0" y1="2620.5" x2="1516.0" y2="2637.5" stroke="#000" stroke-width="5.2"/>
<line x1="1585.3" y1="2620.5" x2="1585.3" y2="2637.5" stroke="#000" stroke-width="5.2"/>
<line x1="1654.5" y1="2620.5" x2="1654.5" y2="2637.5" stroke="#000" stroke-width="5.2"/>
<line x1="1723.8" y1="2620.5" x2="1723.8" y2="2652.5" stroke="#000" stroke-width="5.2"/>
<line x1="1793.1" y1="2620.5" x2="1793.1" y2="2637.5" stroke="#000" stroke-width="5.2"/>
<line x1="1862.3" y1="2620.5" x2="1862.3" y2="2637.5" stroke="#000" stroke-width="5.2"/>
<line x1="1931.6" y1="2620.5" x2="1931.6" y2="2637.5" stroke="#000" stroke-width="5.2"/>
<text x="338.4" y="2733" font-size="72" text-anchor="middle" >0</text>
<text x="684.8" y="2733" font-size="72" text-anchor="middle" >5</text>
<text x="1031.1" y="2733" font-size="72" text-anchor="middle" >10</text>
<text x="1377.4" y="2733" font-size="72" text-anchor="middle" >15</text>
<text x="1723.8" y="2733" font-size="72" text-anchor="middle" >20</text>
<text x="1135.5" y="2821.5" font-size="71" text-anchor="middle" >Applied voltage (V)</text>
<line x1="307" y1="2588.5" x2="274" y2="2588.5" stroke="#000" stroke-width="5.2"/>
<line x1="307" y1="2478.4" x2="290" y2="2478.4" stroke="#000" stroke-width="5.2"/>
<line x1="307" y1="2414.0" x2="290" y2="2414.0" stroke="#000" stroke-width="5.2"/>
<line x1="307" y1="2368.3" x2="290" y2="2368.3" stroke="#000" stroke-width="5.2"/>
<line x1="307" y1="2332.9" x2="290" y2="2332.9" stroke="#000" stroke-width="5.2"/>
<line x1="307" y1="2304.0" x2="290" y2="2304.0" stroke="#000" stroke-width="5.2"/>
<line x1="307" y1="2279.5" x2="290" y2="2279.5" stroke="#000" stroke-width="5.2"/>
<line x1="307" y1="2258.3" x2="290" y2="2258.3" stroke="#000" stroke-width="5.2"/>
<line x1="307" y1="2239.6" x2="290" y2="2239.6" stroke="#000" stroke-width="5.2"/>
<text x="216" y="2627.0" font-size="72" text-anchor="end">10</text>
<text x="215" y="2578.5" font-size="48">0</text>
<line x1="307" y1="2222.8" x2="274" y2="2222.8" stroke="#000" stroke-width="5.2"/>
<line x1="307" y1="2112.8" x2="290" y2="2112.8" stroke="#000" stroke-width="5.2"/>
<line x1="307" y1="2048.4" x2="290" y2="2048.4" stroke="#000" stroke-width="5.2"/>
<line x1="307" y1="2002.7" x2="290" y2="2002.7" stroke="#000" stroke-width="5.2"/>
<line x1="307" y1="1967.2" x2="290" y2="1967.2" stroke="#000" stroke-width="5.2"/>
<line x1="307" y1="1938.3" x2="290" y2="1938.3" stroke="#000" stroke-width="5.2"/>
<line x1="307" y1="1913.8" x2="290" y2="1913.8" stroke="#000" stroke-width="5.2"/>
<line x1="307" y1="1892.6" x2="290" y2="1892.6" stroke="#000" stroke-width="5.2"/>
<line x1="307" y1="1873.9" x2="290" y2="1873.9" stroke="#000" stroke-width="5.2"/>
<text x="216" y="2261.3" font-size="72" text-anchor="end">10</text>
<text x="215" y="2212.8" font-size="48">1</text>
<line x1="307" y1="1857.2" x2="274" y2="1857.2" stroke="#000" stroke-width="5.2"/>
<line x1="307" y1="1747.1" x2="290" y2="1747.1" stroke="#000" stroke-width="5.2"/>
<line x1="307" y1="1682.7" x2="290" y2="1682.7" stroke="#000" stroke-width="5.2"/>
<line x1="307" y1="1637.0" x2="290" y2="1637.0" stroke="#000" stroke-width="5.2"/>
<line x1="307" y1="1601.6" x2="290" y2="1601.6" stroke="#000" stroke-width="5.2"/>
<line x1="307" y1="1572.6" x2="290" y2="1572.6" stroke="#000" stroke-width="5.2"/>
<line x1="307" y1="1548.1" x2="290" y2="1548.1" stroke="#000" stroke-width="5.2"/>
<line x1="307" y1="1526.9" x2="290" y2="1526.9" stroke="#000" stroke-width="5.2"/>
<line x1="307" y1="1508.2" x2="290" y2="1508.2" stroke="#000" stroke-width="5.2"/>
<text x="216" y="1895.7" font-size="72" text-anchor="end">10</text>
<text x="215" y="1847.2" font-size="48">2</text>
<line x1="307" y1="1491.5" x2="274" y2="1491.5" stroke="#000" stroke-width="5.2"/>
<text x="216" y="1530.0" font-size="72" text-anchor="end">10</text>
<text x="215" y="1481.5" font-size="48">3</text>
<line x1="1963" y1="2588.4" x2="1995" y2="2588.4" stroke="#000" stroke-width="5.2"/>
<text x="2013" y="2614.2" font-size="72" text-anchor="start" >0</text>
<line x1="1963" y1="2405.6" x2="1995" y2="2405.6" stroke="#000" stroke-width="5.2"/>
<text x="2013" y="2431.4" font-size="72" text-anchor="start" >200</text>
<line x1="1963" y1="2222.7" x2="1995" y2="2222.7" stroke="#000" stroke-width="5.2"/>
<text x="2013" y="2248.5" font-size="72" text-anchor="start" >400</text>
<line x1="1963" y1="2039.9" x2="1995" y2="2039.9" stroke="#000" stroke-width="5.2"/>
<text x="2013" y="2065.7" font-size="72" text-anchor="start" >600</text>
<line x1="1963" y1="1857.0" x2="1995" y2="1857.0" stroke="#000" stroke-width="5.2"/>
<text x="2013" y="1882.8" font-size="72" text-anchor="start" >800</text>
<line x1="1963" y1="1674.2" x2="1995" y2="1674.2" stroke="#000" stroke-width="5.2"/>
<text x="2013" y="1700.0" font-size="72" text-anchor="start" >1000</text>
<line x1="1963" y1="1491.4" x2="1995" y2="1491.4" stroke="#000" stroke-width="5.2"/>
<text x="2013" y="1517.2" font-size="72" text-anchor="start" >1200</text>
<text font-size="71" text-anchor="middle" transform="translate(100,2039.6) rotate(-90)">Luminance (cd m<tspan font-size="50" dy="-47" dx="-3">−</tspan><tspan font-size="50">2</tspan><tspan dy="47">)</tspan></text>
<text font-size="71" text-anchor="middle" transform="translate(2276,2039.4) rotate(-90)">Current density (mA cm<tspan font-size="50" dy="-47" dx="-3">−</tspan><tspan font-size="50">2</tspan><tspan dy="47">)</tspan></text>
<text x="392.4" y="1600.5" font-size="94" text-anchor="start" >(b)</text>
<line x1="1385" y1="1566.8" x2="1516.3" y2="1566.8" stroke="#FF0000" stroke-width="3.2"/>
<circle cx="1451.2" cy="1566.8" r="19.3" fill="none" stroke="#FF0000" stroke-width="3.6"/>
<line x1="1537.6" y1="1566.8" x2="1670.1" y2="1566.8" stroke="#FF0000" stroke-width="3.2"/>
<circle cx="1603.9" cy="1566.8" r="21.4" fill="#FF0000"/>
<text x="1699.3" y="1589.1" font-size="72" text-anchor="start" >S-1a</text>
<line x1="1385" y1="1646.1" x2="1516.3" y2="1646.1" stroke="#FFAA00" stroke-width="3.2"/>
<circle cx="1451.2" cy="1646.1" r="19.3" fill="none" stroke="#FFAA00" stroke-width="3.6"/>
<line x1="1537.6" y1="1646.1" x2="1670.1" y2="1646.1" stroke="#FFAA00" stroke-width="3.2"/>
<circle cx="1603.9" cy="1646.1" r="21.4" fill="#FFAA00"/>
<text x="1699.3" y="1668.4" font-size="72" text-anchor="start" >S-1b</text>
<line x1="1385" y1="1725.3" x2="1516.3" y2="1725.3" stroke="#00D000" stroke-width="3.2"/>
<circle cx="1451.2" cy="1725.3" r="19.3" fill="none" stroke="#00D000" stroke-width="3.6"/>
<line x1="1537.6" y1="1725.3" x2="1670.1" y2="1725.3" stroke="#00D000" stroke-width="3.2"/>
<circle cx="1603.9" cy="1725.3" r="21.4" fill="#00D000"/>
<text x="1699.3" y="1747.6" font-size="72" text-anchor="start" >S-2a</text>
<line x1="1385" y1="1804.6" x2="1516.3" y2="1804.6" stroke="#0032CD" stroke-width="3.2"/>
<circle cx="1451.2" cy="1804.6" r="19.3" fill="none" stroke="#0032CD" stroke-width="3.6"/>
<line x1="1537.6" y1="1804.6" x2="1670.1" y2="1804.6" stroke="#0032CD" stroke-width="3.2"/>
<circle cx="1603.9" cy="1804.6" r="21.4" fill="#0032CD"/>
<text x="1699.3" y="1826.9" font-size="72" text-anchor="start" >S-2b</text>
</svg>
</body></html>
